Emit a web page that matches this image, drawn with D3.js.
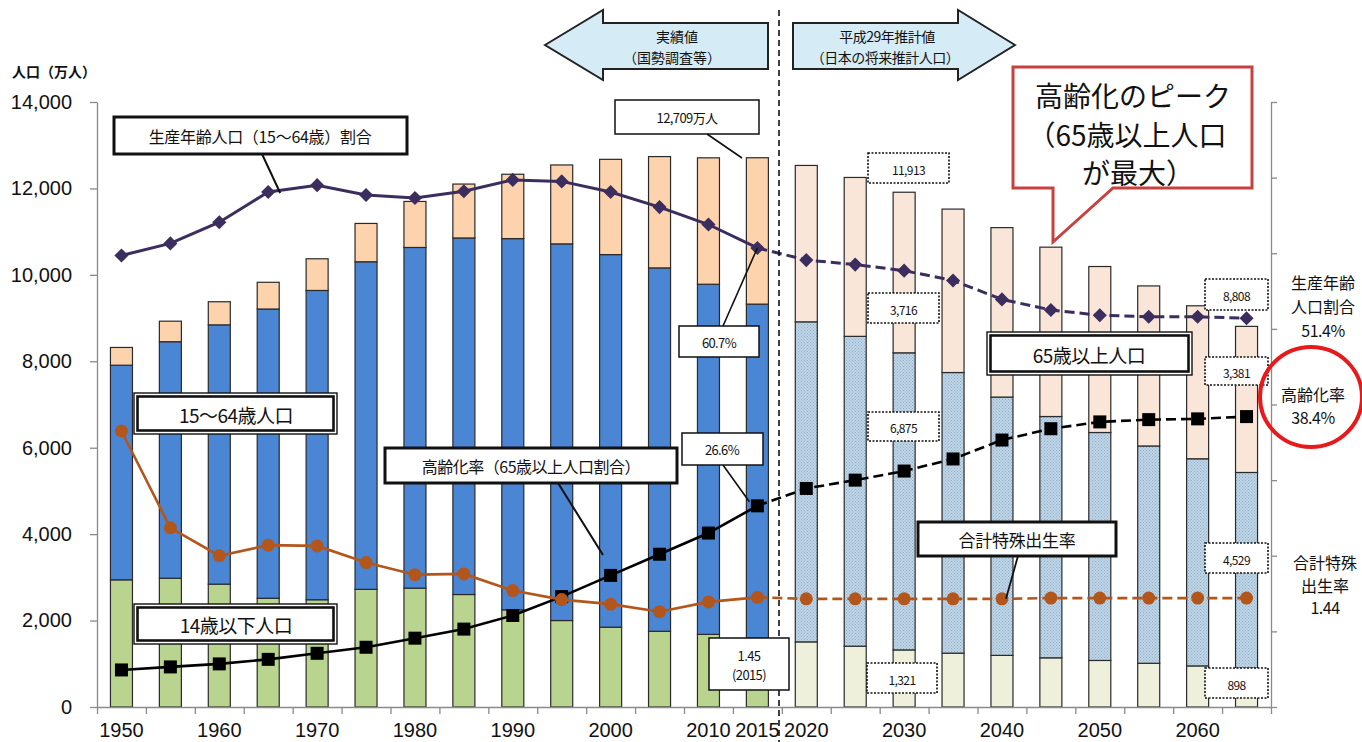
<!DOCTYPE html>
<html><head><meta charset="utf-8">
<script src="https://cdn.jsdelivr.net/npm/d3@7"></script>
<style>
html,body{margin:0;padding:0;background:#fff;}
svg{display:block;font-family:"Liberation Sans","Noto Sans CJK JP",sans-serif;}
.jp{font-family:"Noto Sans CJK JP","Liberation Sans",sans-serif;}
</style></head>
<body><svg id="c" width="1362" height="742"></svg>
<script>
// ---- data (万人, %) ----
const years    = [1950,1955,1960,1965,1970,1975,1980,1985,1990,1995,2000,2005,2010,2015,2020,2025,2030,2035,2040,2045,2050,2055,2060,2065];
const pop0_14  = [2943,2980,2843,2517,2482,2722,2751,2603,2249,2001,1847,1752,1680,1595,1507,1407,1321,1246,1194,1138,1077,1012,951,898];
const pop15_64 = [4966,5473,6000,6693,7157,7581,7883,8251,8590,8716,8622,8409,8103,7728,7406,7170,6875,6494,5978,5584,5275,5028,4793,4529];
const pop65    = [411,475,535,618,733,887,1065,1247,1489,1826,2204,2576,2925,3387,3619,3677,3716,3782,3921,3919,3841,3704,3540,3381];
const workRatio= [59.7,61.3,64.1,68.1,69.0,67.7,67.3,68.2,69.7,69.5,68.1,66.1,63.8,60.7,59.1,58.5,57.7,56.4,53.9,52.5,51.8,51.6,51.6,51.4];
const agingRate= [4.9,5.3,5.7,6.3,7.1,7.9,9.1,10.3,12.1,14.6,17.4,20.2,23.0,26.6,28.9,30.0,31.2,32.8,35.3,36.8,37.7,38.0,38.1,38.4];
const tfr      = [3.65,2.37,2.00,2.14,2.13,1.91,1.75,1.76,1.54,1.42,1.36,1.26,1.39,1.45,1.43,1.43,1.43,1.43,1.43,1.44,1.44,1.44,1.44,1.44];
const lastActual = 2015;
const xLabelYears = [1950,1960,1970,1980,1990,2000,2010,2015,2020,2030,2040,2050,2060];
const yTicks = [0,2000,4000,6000,8000,10000,12000,14000];

const svg = d3.select("#c");
const x = d3.scaleBand().domain(years).range([97,1271]).paddingInner(0.55).paddingOuter(0.275);
const y = d3.scaleLinear().domain([0,14000]).range([707,102]);
const yR = d3.scaleLinear().domain([0,80]).range([707,102]);
const cx = yr => x(yr) + x.bandwidth()/2;

// patterns for projections
const defs = svg.append("defs");
function dotPattern(id, bg, dot){
  const p = defs.append("pattern").attr("id",id).attr("width",3).attr("height",3).attr("patternUnits","userSpaceOnUse");
  p.append("rect").attr("width",3).attr("height",3).attr("fill",bg);
  p.append("rect").attr("x",0).attr("y",0).attr("width",1).attr("height",1).attr("fill",dot);
  p.append("rect").attr("x",1.5).attr("y",1.5).attr("width",1).attr("height",1).attr("fill",dot);
}
dotPattern("pBlue","#bfd5e6","#8fb0ca");

// ---- bars ----
const rows = years.map((yr,i)=>({year:yr, a:pop0_14[i], b:pop15_64[i], c:pop65[i]}));
const stack = d3.stack().keys(["a","b","c"])(rows);
const fillsAct = {a:"#b9d48f", b:"#4a86d4", c:"#fdd3ad"};
const fillsProj = {a:"#eff0dc", b:"url(#pBlue)", c:"#f9e6d8"};
const gBars = svg.append("g");
stack.forEach(layer=>{
  gBars.selectAll(null).data(layer).enter().append("rect")
    .attr("x",d=>x(d.data.year)).attr("width",x.bandwidth())
    .attr("y",d=>y(d[1])).attr("height",d=>y(d[0])-y(d[1]))
    .attr("fill",d=>d.data.year>lastActual?fillsProj[layer.key]:fillsAct[layer.key])
    .attr("stroke","#2a2a2a").attr("stroke-width",1.2);
});

// ---- axes ----
const axL = svg.append("g").attr("transform","translate(97,0)")
  .call(d3.axisLeft(y).tickValues(yTicks).tickFormat(d3.format(",")).tickSize(7).tickPadding(18).tickSizeOuter(0));
axL.selectAll("text").attr("font-size",20).attr("fill","#111");
const axR = svg.append("g").attr("transform","translate(1271,0)")
  .call(d3.axisRight(yR).tickValues([0,10,20,30,40,50,60,70,80]).tickFormat("").tickSize(6).tickSizeOuter(0));
const xEdge = d3.scaleLinear().domain([0,years.length]).range([97,1271]);
const axB = svg.append("g").attr("transform","translate(0,707)")
  .call(d3.axisBottom(xEdge).tickValues(d3.range(years.length+1)).tickFormat("").tickSize(7).tickSizeOuter(0));
const axBL = svg.append("g").attr("transform","translate(0,707)")
  .call(d3.axisBottom(x).tickValues(xLabelYears).tickSize(0).tickPadding(16));
axBL.select(".domain").remove();
axBL.selectAll("text").attr("font-size",20).attr("fill","#111");
[axL,axR,axB].forEach(a=>{a.selectAll("path,line").attr("stroke","#8a8a8a").attr("stroke-width",1.3);});

// ---- lines ----
function drawSeries(vals, yfn, color, width, markerFn){
  const pts = years.map((yr,i)=>({year:yr,v:vals[i]}));
  const line = d3.line().x(d=>cx(d.year)).y(d=>yfn(d.v));
  const act = pts.filter(d=>d.year<=lastActual), proj = pts.filter(d=>d.year>=lastActual);
  svg.append("path").attr("d",line(act)).attr("fill","none").attr("stroke",color).attr("stroke-width",width);
  svg.append("path").attr("d",line(proj)).attr("fill","none").attr("stroke",color).attr("stroke-width",width).attr("stroke-dasharray","10,5");
  const g = svg.append("g");
  pts.forEach(d=>markerFn(g, cx(d.year), yfn(d.v)));
}
drawSeries(workRatio, v=>yR(v), "#3b2d5e", 3, (g,px,py)=>{
  g.append("rect").attr("x",px-5).attr("y",py-5).attr("width",10).attr("height",10)
   .attr("transform",`rotate(45,${px},${py})`).attr("fill","#3b2d5e");
});
drawSeries(agingRate, v=>yR(v), "#000", 2.6, (g,px,py)=>{
  g.append("rect").attr("x",px-6.5).attr("y",py-6.5).attr("width",13).attr("height",13).attr("fill","#000");
});
drawSeries(tfr, v=>yR(v*10), "#b3561c", 2.6, (g,px,py)=>{
  g.append("circle").attr("cx",px).attr("cy",py).attr("r",6.5).attr("fill","#b3561c");
});

// vertical divider
svg.append("line").attr("x1",779).attr("x2",779).attr("y1",10).attr("y2",742)
  .attr("stroke","#111").attr("stroke-width",1.6).attr("stroke-dasharray","6,4");

// ---- annotations ----
const T = (txt,px,py,size,opts={})=>{
  const t = svg.append("text").attr("x",px).attr("y",py).attr("font-size",size)
    .attr("text-anchor",opts.anchor||"middle").attr("dominant-baseline","central")
    .attr("fill",opts.fill||"#111").attr("class",opts.cls||"jp").text(txt);
  if(opts.weight) t.attr("font-weight",opts.weight);
  if(opts.ls) t.attr("letter-spacing",opts.ls);
  return t;
};
const L = (x1,y1,x2,y2,w=1.6)=>svg.append("line").attr("x1",x1).attr("y1",y1).attr("x2",x2).attr("y2",y2).attr("stroke","#111").attr("stroke-width",w);
const box = (x0,y0,w,h,sw=1.5,dash)=>{
  const r = svg.append("rect").attr("x",x0).attr("y",y0).attr("width",w).attr("height",h)
    .attr("fill","#fff").attr("stroke","#111").attr("stroke-width",sw);
  if(dash) r.attr("stroke-dasharray",dash);
  return r;
};
const dbox = (x0,y0,w,h)=>{
  box(x0,y0,w,h,1.4);
  svg.append("rect").attr("x",x0+3.5).attr("y",y0+3.5).attr("width",w-7).attr("height",h-7)
    .attr("fill","none").attr("stroke","#111").attr("stroke-width",2.6);
};

T("人口（万人）",12,71,14,{anchor:"start",weight:"bold"});

// top arrows
svg.append("path").attr("d","M545,45 L603,10 V23 H768 V69 H603 V80 Z").attr("fill","#d5ecf6").attr("stroke","#222").attr("stroke-width",2);
svg.append("path").attr("d","M1015,45 L958,10 V23 H793 V69 H958 V80 Z").attr("fill","#d5ecf6").attr("stroke","#222").attr("stroke-width",2);
T("実績値",677,36,14); T("（国勢調査等）",672,57,14);
T("平成29年推計値",887,36,14,{ls:-0.5}); T("（日本の将来推計人口）",885,57,14,{ls:-0.5});

// 12,709
box(615,100,144,34,1.5);
T("12,709万人",687,117,13,{ls:-0.6});
L(707,134,742,158);

// 生産年齢人口割合 label
L(262,154,cx(1965)+12,yR(workRatio[3])+1,2);
box(114,117,293,37,3);
T("生産年齢人口（15〜64歳）割合",260,136,16,{ls:-0.3});

// 15~64 / 14以下
dbox(134,393,203,41); T("15〜64歳人口",236,414,19,{ls:-0.5});
dbox(134,604,203,40); T("14歳以下人口",236,624,19,{ls:-0.5});

// 高齢化率 label
L(558,483,603,555,2);
box(385,448,292,35,3);
T("高齢化率（65歳以上人口割合）",531,466,16,{ls:-0.5});

// 60.7%, 26.6%
L(723,326,cx(2015),yR(60.7),1.6);
box(679,326,80,31,1.5); T("60.7%",719,342,13,{cls:"",ls:-0.6});
L(723,465,cx(2015)-8,yR(26.6)-4,1.6);
box(682,433,81,32,1.5); T("26.6%",722,449,13,{cls:"",ls:-0.6});
box(709,638,80,52,1.5); T("1.45",749,655,13,{cls:"",ls:-0.6}); T("(2015)",749,674,13,{cls:"",ls:-0.6});

// 合計特殊出生率 label
L(1018,556,cx(2040)+4,yR(tfr[18]*10),1.8);
box(918,522,198,34,3);
T("合計特殊出生率",1017,539,17,{ls:-0.3});

// 65歳以上人口
dbox(987,332,205,43); T("65歳以上人口",1089,354,19,{ls:-0.5});

// dotted value boxes
const dv = (x0,y0,w,h,txt)=>{box(x0,y0,w,h,1.6,"2,1.5"); T(txt,x0+w/2,y0+h/2+1,12,{cls:"",ls:-0.6});};
dv(868,153,81,30,"11,913");
dv(868,293,71,30,"3,716");
dv(868,412,71,29,"6,875");
dv(867,663,70,30,"1,321");
dv(1205,279,63,31,"8,808");
dv(1205,357,63,28,"3,381");
dv(1205,543,63,30,"4,529");
dv(1205,668,63,30,"898");

// red callout
svg.append("path").attr("d","M1013,67 H1252 V188 H1113 L1053,242 V188 H1013 Z")
  .attr("fill","#fff").attr("stroke","#c8413e").attr("stroke-width",3);
T("高齢化のピーク",1133,95,28,{fill:"#111"});
T("（65歳以上人口",1127,134,28,{fill:"#111"});
T("が最大）",1138,172,28,{fill:"#111"});

// right side labels
T("生産年齢",1323,282,16); T("人口割合",1323,306,16); T("51.4%",1323,330,16,{cls:"",ls:-0.5});
svg.append("ellipse").attr("cx",1311).attr("cy",397).attr("rx",51).attr("ry",50).attr("fill","none").attr("stroke","#e8191a").attr("stroke-width",4);
T("高齢化率",1313,394,16); T("38.4%",1313,417,16,{cls:"",ls:-0.5});
T("合計特殊",1325,562,16); T("出生率",1325,585,16); T("1.44",1325,607,16,{cls:"",ls:-0.5});
</script></body></html>
